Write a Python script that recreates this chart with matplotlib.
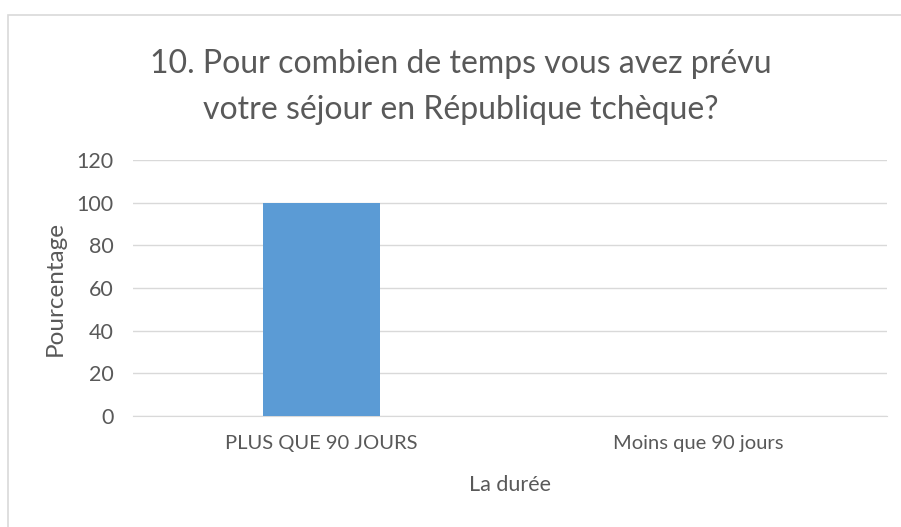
import matplotlib.pyplot as plt
import matplotlib.patches as patches

categories = ['PLUS QUE 90 JOURS', 'Moins que 90 jours']
values = [100, 0]
yticks = [0, 20, 40, 60, 80, 100, 120]

plt.rcParams['font.family'] = ['Lato', 'DejaVu Sans']
txt = '#595959'
grid = '#d9d9d9'

fig = plt.figure(figsize=(9.01, 5.27), dpi=100)
ax = fig.add_axes([133 / 901, 1 - 416 / 527, (887 - 133) / 901, (416 - 160) / 527])

# cadre du graphique
fig.add_artist(patches.Rectangle((8 / 901, -0.01), 1.0, 1 - 15 / 527 + 0.01,
                                 transform=fig.transFigure, fill=False,
                                 edgecolor='#d9d9d9', lw=1.2))

x = range(len(categories))
ax.bar(x, values, width=0.31, color='#5b9bd5', zorder=3)
ax.set_xlim(-0.5, 1.5)
ax.set_ylim(0, 120)
ax.set_yticks(yticks)
ax.set_xticks(list(x))
ax.set_xticklabels(categories, fontsize=14.5)
ax.yaxis.grid(True, color=grid, lw=1, zorder=0)
for s in ['top', 'right', 'left']:
    ax.spines[s].set_visible(False)
ax.spines['bottom'].set_color(grid)
ax.tick_params(length=0, colors=txt)
ax.tick_params(axis='y', pad=14, labelsize=15.5)
ax.tick_params(axis='x', pad=14)

ax.set_ylabel('Pourcentage', fontsize=17.5, color=txt, labelpad=8)
ax.set_xlabel('La durée', fontsize=15.5, color=txt, labelpad=16)

# titre sur deux lignes
fig.text(461 / 901, 1 - 64 / 527, '10. Pour combien de temps vous avez prévu',
         ha='center', va='center', fontsize=23, color=txt)
fig.text(461 / 901, 1 - 110 / 527, 'votre séjour en République tchèque?',
         ha='center', va='center', fontsize=23, color=txt)

fig.savefig('out.png', dpi=100)
